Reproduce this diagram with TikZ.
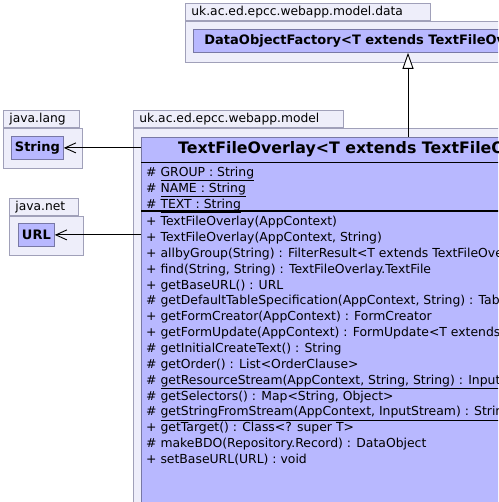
\documentclass[tikz,border=0pt]{standalone}
\usepackage{fontspec}
\setmainfont{DejaVu Sans}
\usetikzlibrary{arrows.meta, positioning}

\definecolor{pkgfill}{RGB}{238,238,250}
\definecolor{pkgline}{RGB}{160,160,185}
\definecolor{clsfill}{RGB}{184,184,255}
\definecolor{clsline}{RGB}{120,120,165}

\begin{document}
\begin{tikzpicture}[x=1pt, y=-1pt,
  pkgtab/.style={draw=pkgline, fill=pkgfill, line width=0.8pt, anchor=north west, inner xsep=6pt, inner ysep=0pt, minimum height=17pt, align=left, font=\fontsize{12.3}{14}\selectfont},
  pkgbody/.style={draw=pkgline, fill=pkgfill, line width=0.8pt, anchor=north west, inner sep=0pt},
  cls/.style={draw=clsline, fill=clsfill, line width=0.8pt, anchor=north west, inner sep=0pt},
  clsname/.style={cls, inner xsep=11pt, minimum height=23pt, font=\bfseries\fontsize{13}{15}\selectfont},
  members/.style={anchor=north west, inner sep=0pt, align=left, font=\fontsize{12.4}{15.85}\selectfont},
  assoc/.style={line width=0.9pt, -{Straight Barb[length=11pt, width=10pt]}},
  impl/.style={line width=0.9pt, -{Triangle[open, length=16pt, width=11pt, fill=white]}}
]
\path[use as bounding box, fill=white] (0,0) rectangle (498,502);
\clip (0,0) rectangle (498,502);

% Paquete de datos
\node[pkgtab, text width=233pt] (datatab) at (185,3) {uk.ac.ed.epcc.webapp.model.data};
\node[pkgbody, minimum width=400pt, minimum height=41pt] (datapkg) at (datatab.south west) {};
\node[clsname, minimum width=380pt, align=left] (dof) at (193,29) {DataObjectFactory<T extends TextFileOverlay.TextFile>};

% Paquetes java
\node[pkgtab, text width=64pt] (langtab) at (3,110) {java.lang};
\node[pkgbody, minimum width=79pt, minimum height=40pt] (langpkg) at (langtab.south west) {};
\node[clsname, inner xsep=2pt, minimum width=52pt] (strbox) at (11,136) {String};

\node[pkgtab, text width=57pt] (nettab) at (9,198) {java.net};
\node[pkgbody, minimum width=74pt, minimum height=39pt] (netpkg) at (nettab.south west) {};
\node[clsname, inner xsep=2pt, minimum width=36pt] (urlbox) at (18,223) {URL};

% Paquete del modelo
\node[pkgtab, text width=198pt] (modeltab) at (133,110) {uk.ac.ed.epcc.webapp.model};
\node[pkgbody, minimum width=500pt, minimum height=500pt] (modelpkg) at (modeltab.south west) {};

% Clase principal
\node[cls, minimum width=500pt, minimum height=400pt] (tfo) at (141,137) {};
\node[anchor=west, inner sep=0pt, font=\bfseries\fontsize{15.8}{18}\selectfont] (tfohead) at ([xshift=37pt, yshift=-12.5pt]tfo.north west) {TextFileOverlay<T extends TextFileOverlay.TextFile>};
\draw[line width=0.8pt] ([yshift=-25pt]tfo.north west) -- ([yshift=-25pt]tfo.north east);
\draw[line width=2pt] ([yshift=-74pt]tfo.north west) -- ([yshift=-74pt]tfo.north east);

\node[members] (tfoattr) at (146,165.4) {\strut\# \underline{GROUP : String}\\
\# \underline{NAME : String}\\
\# \underline{TEXT : String}};

\node[members] (tfoops) at (146,214.4) {\strut+ TextFileOverlay(AppContext)\\
+ TextFileOverlay(AppContext, String)\\
+ allbyGroup(String) : FilterResult<T extends TextFileOverlay.TextFile>\\
+ find(String, String) : TextFileOverlay.TextFile\\
+ getBaseURL() : URL\\
\# getDefaultTableSpecification(AppContext, String) : TableSpecification\\
+ getFormCreator(AppContext) : FormCreator\\
+ getFormUpdate(AppContext) : FormUpdate<T extends TextFileOverlay.TextFile>\\
\# getInitialCreateText() : String\\
\# getOrder() : List<OrderClause>\\
\# \underline{getResourceStream(AppContext, String, String) : InputStream}\\
\# getSelectors() : Map<String, Object>\\
\# \underline{getStringFromStream(AppContext, InputStream) : String}\\
+ getTarget() : Class<? super T>\\
\# makeBDO(Repository.Record) : DataObject\\
+ setBaseURL(URL) : void};

% Relaciones
\coordinate (gx) at (408,0);
\draw[impl] (tfo.north -| gx) -- (dof.south -| gx);
\draw[assoc] (tfo.west |- strbox.east) -- (strbox.east);
\draw[assoc] (tfo.west |- urlbox.east) -- (urlbox.east);

\end{tikzpicture}
\end{document}
